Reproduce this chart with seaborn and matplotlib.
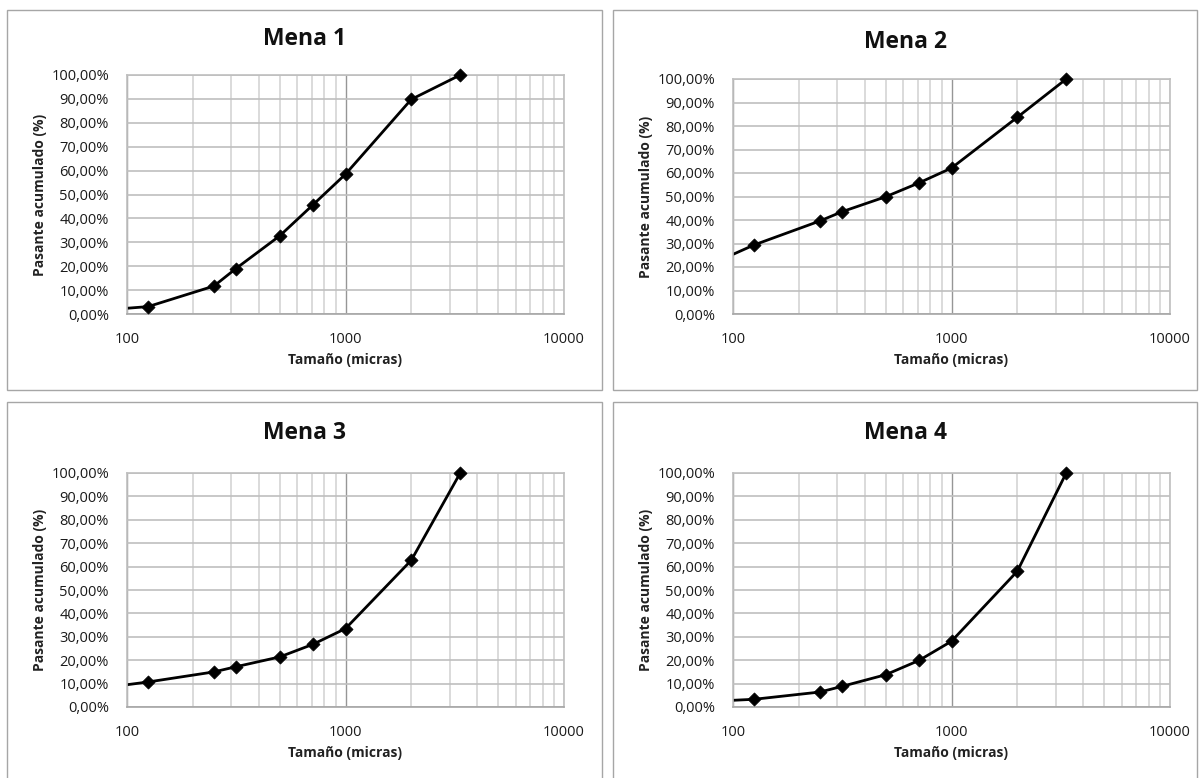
import matplotlib
matplotlib.use('Agg')
import matplotlib.pyplot as plt
from matplotlib.patches import Rectangle
from matplotlib.ticker import FuncFormatter, LogLocator, NullFormatter
import seaborn as sns
import pandas as pd

sns.set_style('white')
plt.rcParams['font.family'] = ['Open Sans', 'DejaVu Sans']

# tamaño de malla (micras); el primer punto cae fuera del eje (x < 100)
tamano = [75, 125, 250, 315, 500, 710, 1000, 2000, 3350]
mena1 = [1.5, 3.1, 11.7, 19.0, 32.7, 45.7, 58.5, 89.8, 100.0]
mena2 = [20.2, 29.4, 39.6, 43.5, 49.9, 55.8, 62.1, 83.7, 100.0]
mena3 = [8.0, 10.7, 15.0, 17.2, 21.4, 26.8, 33.5, 62.7, 100.0]
mena4 = [2.3, 3.3, 6.4, 8.8, 13.8, 19.9, 28.1, 58.0, 100.0]
titulos = ['Mena 1', 'Mena 2', 'Mena 3', 'Mena 4']
series = [mena1, mena2, mena3, mena4]

W, H = 1200, 778
fig = plt.figure(figsize=(12, 7.78), dpi=100)

# cajas de cada grafico (px): x0, y0, x1, y1
boxes = [(7, 10, 602, 390), (613, 10, 1197, 390),
         (7, 402, 602, 790), (613, 402, 1197, 790)]
# area de trazado (px): x0, y_top, x1, y_bottom
areas = [(127, 75, 564, 314), (733, 79, 1170, 314),
         (127, 473, 564, 707), (733, 473, 1170, 707)]
title_y = [39, 42, 433, 433]
xlab_y = [360, 360, 753, 753]
ylab_x = [40, 646, 40, 646]

pct = FuncFormatter(lambda v, p: f'{v:.2f}'.replace('.', ',') + '%')

for i in range(4):
    bx0, by0, bx1, by1 = boxes[i]
    fig.add_artist(Rectangle((bx0 / W, 1 - by1 / H), (bx1 - bx0) / W, (by1 - by0) / H,
                             transform=fig.transFigure, fill=False,
                             edgecolor='#a6a6a6', linewidth=1.0))
    x0, yt, x1, yb = areas[i]
    ax = fig.add_axes([x0 / W, 1 - yb / H, (x1 - x0) / W, (yb - yt) / H])
    df = pd.DataFrame({'Tamano': tamano, 'Pasante': series[i]})
    sns.lineplot(data=df, x='Tamano', y='Pasante', ax=ax, color='black', linewidth=2.0)
    vis = df[df['Tamano'] >= 100]
    sns.scatterplot(data=vis, x='Tamano', y='Pasante', ax=ax, color='black', marker='D',
                    s=45, edgecolor='black', linewidth=0.5, clip_on=False, zorder=4)
    ax.set_xscale('log')
    ax.set_xlim(100, 10000)
    ax.set_ylim(0, 100)
    ax.set_yticks(range(0, 101, 10))
    ax.yaxis.set_major_formatter(pct)
    ax.xaxis.set_major_locator(LogLocator(base=10, numticks=5))
    ax.xaxis.set_minor_locator(LogLocator(base=10, subs=range(2, 10), numticks=20))
    ax.xaxis.set_minor_formatter(NullFormatter())
    ax.xaxis.set_major_formatter(FuncFormatter(lambda v, p: f'{v:.0f}'))
    ax.grid(axis='y', which='major', color='#bfbfbf', linewidth=1.2)
    ax.grid(axis='x', which='major', color='#969696', linewidth=1.0)
    ax.grid(axis='x', which='minor', color='#d4d4d4', linewidth=1.2)
    ax.set_axisbelow(True)
    for s in ax.spines.values():
        s.set_color('#bfbfbf')
        s.set_linewidth(1.2)
    ax.spines['bottom'].set_color('#a6a6a6')
    ax.tick_params(axis='both', which='both', length=0, labelsize=10.5, colors='#1a1a1a')
    ax.tick_params(axis='y', pad=13)
    ax.tick_params(axis='x', pad=13)
    ax.set_xlabel('')
    ax.set_ylabel('')
    fig.text((bx0 + bx1) / 2 / W, 1 - title_y[i] / H, titulos[i], ha='center', va='center',
             fontsize=16.5, fontweight='bold', color='#111111')
    fig.text((x0 + x1) / 2 / W, 1 - xlab_y[i] / H, 'Tamaño (micras)', ha='center', va='center',
             fontsize=10, fontweight='bold', color='#222222')
    fig.text(ylab_x[i] / W, 1 - (yt + yb) / 2 / H, 'Pasante acumulado (%)', ha='center',
             va='center', rotation=90, fontsize=10, fontweight='bold', color='#222222')

fig.savefig('out.png', dpi=100, facecolor='white')
